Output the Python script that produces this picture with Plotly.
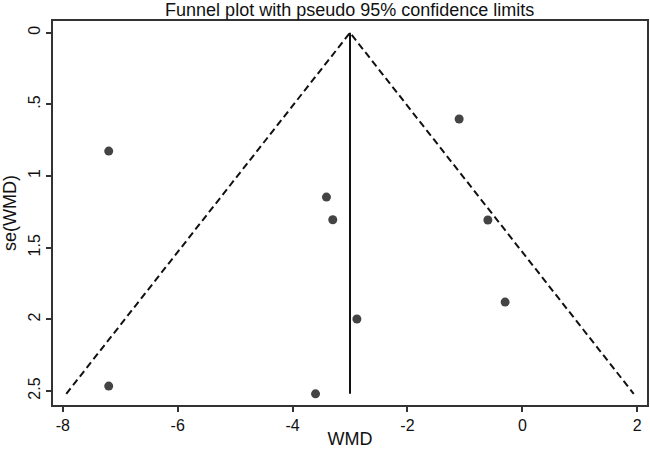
import plotly.graph_objects as go

# study estimates
wmd = [-7.20, -7.20, -3.41, -3.30, -1.10, -0.60, -0.30, -2.88, -3.60]
se_wmd = [0.826, 2.466, 1.147, 1.305, 0.602, 1.307, 1.88, 1.998, 2.52]

pooled = -3.0
se_max = 2.52
z95 = 1.96

y_ticks = [0, 0.5, 1, 1.5, 2, 2.5]
y_labels = ["0", ".5", "1", "1.5", "2", "2.5"]
x_ticks = [-8, -6, -4, -2, 0, 2]
x_labels = ["-8", "-6", "-4", "-2", "0", "2"]

FONT = dict(family="Liberation Sans, Arial, sans-serif", size=15, color="#111111")

fig = go.Figure()

# pseudo 95% confidence limits
fig.add_trace(go.Scatter(
    x=[pooled - z95 * se_max, pooled, pooled + z95 * se_max],
    y=[se_max, 0, se_max],
    mode="lines",
    line=dict(color="#111111", width=2, dash="7px,4px"),
    hoverinfo="skip",
))
# pooled estimate
fig.add_trace(go.Scatter(
    x=[pooled, pooled],
    y=[0, se_max],
    mode="lines",
    line=dict(color="#111111", width=2),
    hoverinfo="skip",
))
fig.add_trace(go.Scatter(
    x=wmd,
    y=se_wmd,
    mode="markers",
    marker=dict(color="#444444", size=9),
))

fig.update_layout(
    width=650,
    height=449,
    showlegend=False,
    paper_bgcolor="white",
    plot_bgcolor="white",
    font=FONT,
    margin=dict(l=53, r=3, t=21, b=44, autoexpand=False),
    title=dict(
        text="Funnel plot with pseudo 95% confidence limits",
        x=0.538, xanchor="center", y=0.978, yanchor="middle",
        font=dict(size=18),
    ),
)
fig.update_xaxes(
    range=[-8.17, 2.17],
    tickvals=x_ticks,
    ticktext=x_labels,
    automargin=False,
    ticks="outside", ticklen=5, tickwidth=1.5, tickcolor="#333333",
    showline=True, linecolor="#333333", linewidth=1.5, mirror=True,
    showgrid=False, zeroline=False,
    title=dict(text="WMD", standoff=0),
    tickfont=dict(size=16),
)
fig.update_yaxes(
    range=[2.598, -0.082],
    tickvals=y_ticks,
    ticktext=y_labels,
    tickangle=-90,
    automargin=False,
    ticks="outside", ticklen=5, tickwidth=1.5, tickcolor="#333333",
    showline=True, linecolor="#333333", linewidth=1.5, mirror=True,
    showgrid=False, zeroline=False,
    title=dict(text="se(WMD)", standoff=6),
    tickfont=dict(size=16),
)

# drop the default page margin so the 650x449 figure fills the window
fig.write_html(
    "out.html",
    config={"displayModeBar": False},
    post_script="document.body.style.margin = '0';",
)
